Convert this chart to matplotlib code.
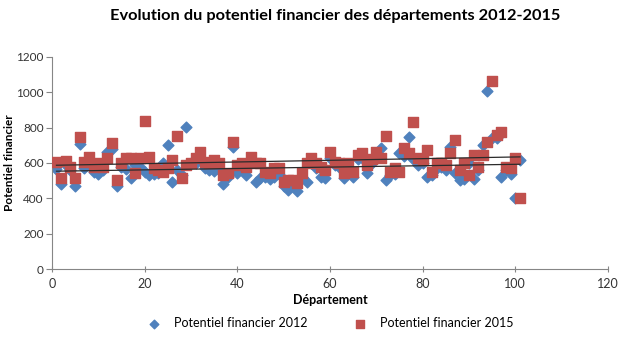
import numpy as np
import matplotlib.pyplot as plt

plt.rcParams['font.family'] = ['Lato', 'DejaVu Sans']

# potentiel financier par departement (rang 1..101)
departements = np.arange(1, 102)

pf_2012 = [564, 481, 590, 560, 470, 707, 571, 600, 549, 538,
           560, 664, 680, 470, 580, 566, 513, 590, 580, 551,
           532, 540, 545, 598, 702, 494, 560, 530, 805, 600,
           600, 620, 570, 560, 556, 560, 481, 520, 688, 541,
           570, 532, 600, 494, 513, 520, 510, 523, 540, 470,
           447, 480, 443, 520, 494, 600, 570, 523, 513, 626,
           590, 580, 513, 570, 523, 620, 630, 541, 600, 640,
           683, 504, 530, 540, 655, 640, 749, 620, 589, 600,
           523, 530, 570, 580, 560, 692, 541, 504, 510, 600,
           510, 560, 702, 1009, 740, 740, 523, 560, 540, 400,
           617]

pf_2015 = [607, 513, 610, 579, 513, 745, 607, 632, 579, 600,
           579, 626, 711, 504, 600, 626, 628, 545, 626, 839,
           636, 570, 560, 551, 570, 617, 753, 513, 590, 598,
           626, 664, 607, 598, 617, 600, 532, 541, 720, 589,
           598, 579, 636, 598, 598, 551, 541, 570, 570, 494,
           504, 504, 485, 541, 600, 626, 598, 580, 560, 664,
           607, 600, 541, 598, 551, 645, 655, 589, 620, 664,
           626, 753, 551, 570, 551, 683, 655, 834, 626, 617,
           673, 551, 598, 598, 589, 655, 730, 560, 600, 532,
           645, 579, 645, 720, 1066, 758, 777, 579, 570, 626,
           400]

fig = plt.figure(figsize=(6.4, 3.41), dpi=100)
ax = fig.add_axes([0.081, 0.211, 0.869, 0.622])

ax.scatter(departements, pf_2012, marker='D', s=30, color='#4F81BD',
           label='Potentiel financier 2012', zorder=2)
ax.scatter(departements, pf_2015, marker='s', s=52, color='#C0504D',
           label='Potentiel financier 2015', zorder=3)

# courbes de tendance lineaires
for serie in (pf_2012, pf_2015):
    a, b = np.polyfit(departements, serie, 1)
    xs = np.array([departements[0], departements[-1]])
    ax.plot(xs, a * xs + b, color='#2b2b2b', lw=0.9, zorder=4)

ax.set_xlim(0, 120)
ax.set_ylim(0, 1200)
ax.set_xticks(range(0, 121, 20))
ax.set_yticks(range(0, 1201, 200))

for side in ('top', 'right'):
    ax.spines[side].set_visible(False)
for side in ('left', 'bottom'):
    ax.spines[side].set_color('#868686')
    ax.spines[side].set_linewidth(0.8)
ax.tick_params(axis='x', direction='inout', length=5, color='#868686',
               labelsize=9, labelcolor='#333333', pad=4)
ax.tick_params(axis='y', direction='out', length=4, color='#868686',
               labelsize=8.5, labelcolor='#333333', pad=2)

ax.set_xlabel('Département', fontsize=9, fontweight='bold', labelpad=3)
ax.set_ylabel('Potentiel financier', fontsize=8.5, fontweight='bold', labelpad=1)
fig.suptitle('Evolution du potentiel financier des départements 2012-2015',
             fontsize=11.8, fontweight='bold', x=0.524, y=0.975)

ax.legend(loc='upper center', bbox_to_anchor=(0.495, -0.175), ncol=2,
          frameon=False, fontsize=9, columnspacing=3.2, handletextpad=0.6,
          markerscale=0.8)

fig.savefig('out.png', dpi=100)
